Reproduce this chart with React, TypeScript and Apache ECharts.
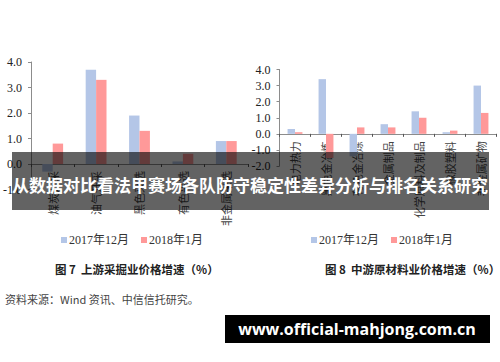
import React, { useEffect, useRef } from "react";
import * as echarts from "echarts";

const legendNames = ["2017年12月", "2018年1月"];

const upCategories = ["煤炭开采", "油气开采", "黑色采选", "有色采选", "非金属采选"];
const up2017 = [-0.3, 3.7, 1.9, 0.1, 0.9];
const up2018 = [0.8, 3.3, 1.3, 0.4, 0.9];

const midCategories = ["电力热力", "黑色金冶炼", "有色金冶炼", "金属制品", "化学原料及制品", "橡胶塑料", "非金属矿物"];
const mid2017 = [0.3, 3.4, -1.4, 0.6, 1.4, 0.1, 3.0];
const mid2018 = [0.1, -1.5, 0.4, 0.4, 1.0, 0.2, 1.3];

const titleText = "从数据对比看法甲赛场各队防守稳定性差异分析与排名关系研究";
const caption7 = "图 7  上游采掘业价格增速（%）";
const caption8 = "图 8  中游原材料业价格增速（%）";
const sourceText = "资料来源：Wind 资讯、中信信托研究。";
const watermark = "www.official-mahjong.com.cn";

const BLUE = "#B4C6E7";
const RED = "#FF9999";
const AXIS = "#8C8C8C";
const SERIF = "'Liberation Serif', 'Noto Sans CJK SC', serif";
const CJK = "'Noto Sans CJK SC', sans-serif";

export default function App() {
  const ref = useRef<HTMLDivElement>(null);
  useEffect(() => {
    if (!ref.current) return;
    const chart = echarts.init(ref.current, null, { renderer: "svg" });
    const yAxisBase = (min: number, max: number, gridIndex: number) => ({
      type: "value",
      gridIndex,
      min,
      max,
      interval: 1,
      axisLine: { show: true, lineStyle: { color: AXIS } },
      axisTick: { show: true, length: 3, lineStyle: { color: AXIS } },
      splitLine: { show: false },
      axisLabel: {
        formatter: (v: number) => v.toFixed(1),
        color: "#222",
        fontFamily: SERIF,
        fontSize: 12,
        margin: 9,
      },
    });
    // labels sit under the zero line: margin pulls them up from the grid bottom
    const xAxisBase = (data: string[], gridIndex: number, margin: number) => ({
      type: "category",
      gridIndex,
      data,
      axisLine: { show: true, onZero: true, lineStyle: { color: AXIS } },
      axisTick: { show: true, length: 3, lineStyle: { color: "#555" } },
      axisLabel: {
        rotate: 90,
        interval: 0,
        color: "#444",
        fontFamily: CJK,
        fontSize: 11,
        margin,
      },
    });
    const barBase = { type: "bar", barGap: "0%", barCategoryGap: "52%" };
    const legendBase = (left: number) => ({
      left,
      top: 229,
      data: legendNames,
      icon: "rect",
      itemWidth: 6,
      itemHeight: 6,
      itemGap: 12,
      textStyle: { fontFamily: SERIF, fontSize: 12, color: "#333", padding: [0, 0, 0, -3] },
    });
    chart.setOption({
      animation: false,
      backgroundColor: "#fff",
      grid: [
        { left: 30, top: 62, width: 218, height: 127.5 },
        { left: 279.5, top: 69.5, width: 217, height: 96.5 },
      ],
      xAxis: [xAxisBase(upCategories, 0, -18.5), xAxisBase(midCategories, 1, -24.7)],
      yAxis: [yAxisBase(-1, 4, 0), yAxisBase(-2, 4, 1)],
      legend: [legendBase(56), legendBase(306)],
      series: [
        { ...barBase, name: legendNames[0], xAxisIndex: 0, yAxisIndex: 0, data: up2017, itemStyle: { color: BLUE } },
        { ...barBase, name: legendNames[1], xAxisIndex: 0, yAxisIndex: 0, data: up2018, itemStyle: { color: RED } },
        { ...barBase, name: legendNames[0], xAxisIndex: 1, yAxisIndex: 1, data: mid2017, itemStyle: { color: BLUE } },
        { ...barBase, name: legendNames[1], xAxisIndex: 1, yAxisIndex: 1, data: mid2018, itemStyle: { color: RED } },
      ],
      graphic: [
        {
          type: "text",
          left: 55,
          top: 263,
          style: { text: caption7, font: `bold 11.5px ${CJK}`, fill: "#222" },
        },
        {
          type: "text",
          left: 325,
          top: 263,
          style: { text: caption8, font: `bold 11.5px ${CJK}`, fill: "#222" },
        },
        {
          type: "text",
          left: 5,
          top: 293,
          style: { text: sourceText, font: `11px ${CJK}`, fill: "#444" },
        },
        {
          type: "rect",
          z: 100,
          shape: { x: 12, y: 152, width: 477, height: 58 },
          style: { fill: "rgba(0,0,0,0.61)" },
        },
        {
          type: "text",
          z: 101,
          x: 250,
          y: 184,
          style: {
            text: titleText,
            font: `bold 17px ${CJK}`,
            fill: "#fff",
            align: "center",
            verticalAlign: "middle",
          },
        },
        {
          type: "rect",
          z: 100,
          shape: { x: 225, y: 315, width: 265, height: 28 },
          style: { fill: "#000" },
        },
        {
          type: "text",
          z: 101,
          x: 357,
          y: 329,
          style: {
            text: watermark,
            font: `bold 16px 'Open Sans', 'Noto Sans', sans-serif`,
            fill: "#fff",
            align: "center",
            verticalAlign: "middle",
          },
        },
      ],
    });
    return () => chart.dispose();
  }, []);
  return (
    <div
      ref={ref}
      style={{ position: "fixed", left: 0, top: 0, width: 500, height: 362 }}
    />
  );
}
